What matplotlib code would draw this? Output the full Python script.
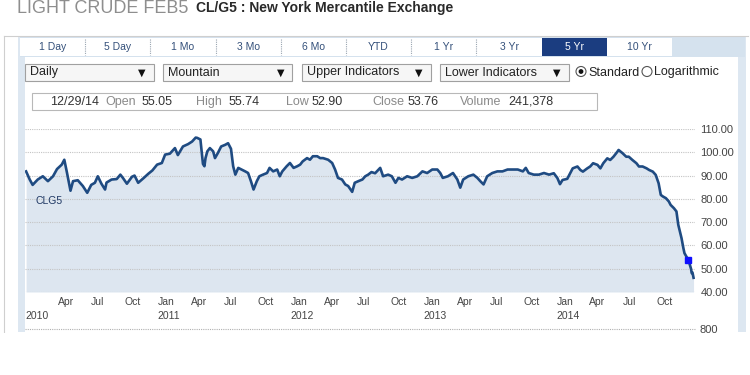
"""
plot.py

Grafico de 5 años del contrato CL/G5 (Light Crude Feb 2015) tal como aparece
en la pagina de la bolsa: pestañas, menus, caja de informacion y area de precio.
"""

import matplotlib
matplotlib.use('Agg')
import matplotlib.pyplot as plt
from matplotlib.patches import Rectangle, Circle
from matplotlib.ticker import FuncFormatter
import pandas as pd

plt.rcParams['font.family'] = ['Liberation Sans', 'DejaVu Sans']

# Datos (precio de cierre aprox.)
fechas = [
    '2010-01-04', '2010-01-14', '2010-01-22', '2010-02-05', '2010-02-19',
    '2010-03-05', '2010-03-19', '2010-03-30', '2010-04-12', '2010-04-19',
    '2010-04-26', '2010-05-06', '2010-05-13', '2010-05-26', '2010-06-09',
    '2010-06-21', '2010-07-02', '2010-07-12', '2010-07-20', '2010-07-30',
    '2010-08-09', '2010-08-13', '2010-08-27', '2010-09-10', '2010-09-20',
    '2010-09-27', '2010-10-08', '2010-10-22', '2010-10-29', '2010-11-08',
    '2010-11-22', '2010-12-06', '2010-12-17', '2010-12-30',
    '2011-01-12', '2011-01-21', '2011-02-03', '2011-02-17', '2011-02-25',
    '2011-03-11', '2011-03-25', '2011-04-05', '2011-04-15', '2011-04-19',
    '2011-04-28', '2011-05-05', '2011-05-09', '2011-05-12', '2011-05-17',
    '2011-05-24', '2011-06-02', '2011-06-07', '2011-06-15', '2011-06-24',
    '2011-07-05', '2011-07-13', '2011-07-21', '2011-07-27', '2011-08-02',
    '2011-08-10', '2011-08-19', '2011-08-29', '2011-09-06', '2011-09-14',
    '2011-09-21', '2011-09-30', '2011-10-07', '2011-10-17', '2011-10-28',
    '2011-11-04', '2011-11-14', '2011-11-25', '2011-12-02', '2011-12-09',
    '2011-12-21', '2011-12-30',
    '2012-01-09', '2012-01-19', '2012-01-27', '2012-02-03', '2012-02-15',
    '2012-02-23', '2012-03-02', '2012-03-14', '2012-03-22', '2012-03-30',
    '2012-04-13', '2012-04-24', '2012-05-02', '2012-05-10', '2012-05-21',
    '2012-05-30', '2012-06-07', '2012-06-18', '2012-06-25', '2012-07-05',
    '2012-07-16', '2012-07-24', '2012-08-01', '2012-08-10', '2012-08-20',
    '2012-09-03', '2012-09-11', '2012-09-25', '2012-10-05', '2012-10-15',
    '2012-10-23', '2012-11-02', '2012-11-16', '2012-11-30', '2012-12-14',
    '2012-12-28',
    '2013-01-10', '2013-01-24', '2013-02-07', '2013-02-15', '2013-02-22',
    '2013-03-08', '2013-03-22', '2013-04-03', '2013-04-11', '2013-04-19',
    '2013-05-03', '2013-05-17', '2013-05-28', '2013-06-05', '2013-06-14',
    '2013-06-24', '2013-07-08', '2013-07-22', '2013-08-05', '2013-08-19',
    '2013-09-02', '2013-09-16', '2013-09-30', '2013-10-08', '2013-10-16',
    '2013-10-30', '2013-11-13', '2013-11-27', '2013-12-11', '2013-12-24',
    '2014-01-03', '2014-01-10', '2014-01-17', '2014-01-30', '2014-02-07',
    '2014-02-14', '2014-02-27', '2014-03-07', '2014-03-14', '2014-03-26',
    '2014-04-03', '2014-04-11', '2014-04-23', '2014-05-01', '2014-05-09',
    '2014-05-20', '2014-05-28', '2014-06-06', '2014-06-17', '2014-06-20',
    '2014-07-01', '2014-07-11', '2014-07-18', '2014-07-28', '2014-08-08',
    '2014-08-15', '2014-08-25', '2014-09-05', '2014-09-12', '2014-09-22',
    '2014-09-30', '2014-10-08', '2014-10-14', '2014-10-20', '2014-10-28',
    '2014-11-05', '2014-11-10', '2014-11-19', '2014-11-26', '2014-12-01',
    '2014-12-10', '2014-12-15', '2014-12-18', '2014-12-23', '2014-12-29',
    '2015-01-05', '2015-01-07', '2015-01-09', '2015-01-12',
]
precios = [
    91.8, 88.3, 86.0, 88.3, 89.7,
    87.6, 89.7, 92.8, 94.7, 96.8,
    91.5, 83.5, 87.6, 88.0, 85.5,
    82.6, 86.0, 86.9, 89.7, 86.5,
    84.0, 87.0, 88.3, 88.5, 90.4,
    89.0, 86.5, 89.5, 90.0, 86.9,
    88.8, 90.8, 92.2, 94.7,
    95.4, 99.0, 99.4, 101.8, 98.8,
    102.5, 103.5, 104.6, 106.3, 106.2,
    105.5, 95.0, 94.0, 97.5, 100.4,
    101.8, 100.4, 97.5, 99.7, 102.5,
    103.2, 103.9, 101.5, 94.0, 90.4,
    93.3, 92.6, 91.8, 91.1, 87.5,
    84.0, 87.6, 89.7, 90.4, 91.1,
    93.3, 91.8, 92.6, 89.7, 91.8,
    94.0, 95.4,
    93.3, 94.0, 94.7, 96.1, 97.5,
    96.8, 98.3, 98.3, 97.5, 97.5,
    96.8, 95.4, 92.6, 89.0, 88.3,
    86.2, 85.5, 83.0, 86.9, 87.6,
    88.3, 89.7, 90.4, 91.5, 91.0,
    93.3, 89.7, 90.4, 89.7, 86.9,
    89.0, 88.3, 89.7, 89.0, 89.7,
    91.8,
    91.1, 92.6, 92.6, 91.1, 89.0,
    89.7, 91.1, 88.3, 84.8, 88.3,
    89.7, 90.4, 89.0, 87.6, 86.2,
    89.7, 91.1, 91.8, 91.8, 92.6,
    92.6, 92.6, 91.8, 93.3, 91.1,
    90.4, 90.4, 91.1, 90.4, 91.0,
    88.9, 86.3, 88.1, 88.6, 91.0,
    93.1, 93.9, 92.4, 91.7, 93.1,
    93.9, 95.3, 94.6, 93.1, 95.3,
    97.4, 96.7, 98.1, 100.3, 101.0,
    99.6, 98.1, 98.1, 96.7, 95.3,
    93.9, 93.9, 93.1, 92.4, 91.7,
    90.3, 86.7, 81.7, 81.0, 80.3,
    78.9, 77.4, 76.0, 74.6, 68.9,
    63.1, 58.9, 56.7, 55.3, 53.76,
    50.0, 48.1, 48.4, 46.1,
]
fecha_cursor = '2014-12-29'
precio_cursor = 53.76

y_ticks = [40, 50, 60, 70, 80, 90, 100, 110]
x_meses = pd.date_range('2010-01-01', '2014-10-01', freq='QS')
x_anios = pd.date_range('2010-01-01', '2014-01-01', freq='YS')

# Textos de la interfaz
tabs = ['1 Day', '5 Day', '1 Mo', '3 Mo', '6 Mo', 'YTD', '1 Yr', '3 Yr', '5 Yr', '10 Yr']
tab_activa = '5 Yr'
menus = ['Daily', 'Mountain', 'Upper Indicators', 'Lower Indicators']
info_etiquetas = ['Open', 'High', 'Low', 'Close', 'Volume']
info_valores = ['12/29/14', '55.05', '55.74', '52.90', '53.76', '241,378']

fechas = pd.to_datetime(fechas)

fig = plt.figure(figsize=(7.5, 3.75), dpi=100)

# Capa de fondo en pixeles (y hacia abajo) para la interfaz
ui = fig.add_axes([0, 0, 1, 1])
ui.set_xlim(0, 750)
ui.set_ylim(375, 0)
ui.axis('off')

# Titulo
ui.text(17, 13, 'LIGHT CRUDE FEB5', fontsize=13, color='#8e8e8e', va='baseline')
ui.text(196, 12, 'CL/G5 : New York Mercantile Exchange', fontsize=10,
        weight='bold', color='#2a2a2a', va='baseline')

# Marco y panel
ui.plot([4, 4], [36, 332], color='#cfcfcf', lw=0.8)
ui.plot([4, 748], [36, 36], color='#cfcfcf', lw=0.8)
ui.add_patch(Rectangle((18, 37), 728, 295, fc='#dde7f1', ec='none'))
ui.add_patch(Rectangle((25, 57), 713, 275, fc='white', ec='none'))

# Pestañas
ui.add_patch(Rectangle((20, 37), 725, 20, fc='#d5e2ee', ec='none'))
ancho_tab = 65.2
for i, t in enumerate(tabs):
    x0 = 20 + i * ancho_tab
    activa = t == tab_activa
    ui.add_patch(Rectangle((x0, 38), ancho_tab, 18,
                           fc='#1b3d80' if activa else 'white', ec='none'))
    if i > 0 and not activa and tabs[i - 1] != tab_activa:
        ui.plot([x0, x0], [39, 55], color='#9aa5b1', lw=0.8, ls=(0, (1, 1)))
    ui.text(x0 + ancho_tab / 2, 47, t, fontsize=7.5, ha='center', va='center',
            color='white' if activa else '#34507a')

# Menus desplegables
for i, m in enumerate(menus):
    x0 = 25 + i * 138.3
    ui.add_patch(Rectangle((x0, 64), 129, 17, fc='#f6f6f6', ec='#a0a0a0', lw=0.8))
    ui.text(x0 + 5, 72.5, m, fontsize=9, va='center', color='#222222')
    ui.text(x0 + 117, 72.5, '▼', fontsize=7, ha='center', va='center',
            color='#111111', family=['DejaVu Sans'])

# Botones de escala
ui.add_patch(Circle((581, 71.5), 5, fc='white', ec='#555555', lw=0.8))
ui.add_patch(Circle((581, 71.5), 2.4, fc='#111111', ec='none'))
ui.text(588, 72.5, 'Standard', fontsize=9, va='center', color='#222222')
ui.add_patch(Circle((647, 71.5), 5, fc='white', ec='#555555', lw=0.8))
ui.text(654, 72.5, 'Logarithmic', fontsize=9, va='center', color='#222222')

# Caja de informacion
ui.add_patch(Rectangle((32, 93), 565, 17, fc='white', ec='#b8b8b8', lw=0.8))
x_etiquetas = [105, 196, 286, 372, 460]
x_valores = [50, 142, 229, 312, 408, 508]
for x, e in zip(x_etiquetas, info_etiquetas):
    ui.text(x, 102, e, fontsize=9, va='center', color='#8a8a8a')
for x, v in zip(x_valores, info_valores):
    ui.text(x, 102, v, fontsize=9, va='center', color='#333333')

# Panel inferior (volumen) cortado
ui.plot([25, 695], [329, 329], color='#b0b0b0', lw=0.8, ls=(0, (1, 1)))
ui.text(700, 330, '800', fontsize=8, va='center', color='#444444')
ui.add_patch(Rectangle((0, 333), 750, 42, fc='white', ec='none', zorder=10))

# Grafico de precio
ax = fig.add_axes([25 / 750, 1 - 292 / 375, 670 / 750, 163 / 375])
ax.fill_between(fechas, precios, y_ticks[0], color='#dde6f0', lw=0, zorder=1)
ax.plot(fechas, precios, color='#1f4b82', lw=1.9, zorder=3)
ax.plot(pd.to_datetime([fecha_cursor]), [precio_cursor], marker='s', ms=4,
        color='#1010ff', lw=0, zorder=4)
ax.text(0.015, 79, 'CLG5', transform=ax.get_yaxis_transform(), fontsize=7.5,
        color='#1f3864', va='center')

ax.set_xlim(pd.Timestamp('2010-01-01'), pd.Timestamp('2015-01-16'))
ax.set_ylim(y_ticks[0], y_ticks[-1])
ax.set_yticks(y_ticks)
ax.yaxis.tick_right()
ax.yaxis.set_major_formatter(FuncFormatter(lambda v, p: f'{v:.2f}'))
ax.set_axisbelow(False)
ax.grid(axis='y', color='#c4c4c4', lw=0.8, ls=(0, (1, 1)))
for s in ax.spines.values():
    s.set_visible(False)

# Meses arriba, años abajo (sin "Jan" en el primer tick)
etiquetas_mes = ['' if i == 0 else d.strftime('%b') for i, d in enumerate(x_meses)]
ax.xaxis.remove_overlapping_locs = False
ax.set_xticks(x_meses, etiquetas_mes)
ax.set_xticks(x_anios, [d.strftime('%Y') for d in x_anios], minor=True)
ax.tick_params(axis='both', which='both', length=0, labelsize=7.5, colors='#444444')
ax.tick_params(axis='y', labelsize=8, pad=4)
ax.tick_params(axis='x', which='major', pad=3.5)
ax.tick_params(axis='x', which='minor', pad=13.5)
plt.setp(ax.xaxis.get_majorticklabels(), ha='left')
plt.setp(ax.xaxis.get_minorticklabels(), ha='left')

fig.savefig('out.png', dpi=100)
